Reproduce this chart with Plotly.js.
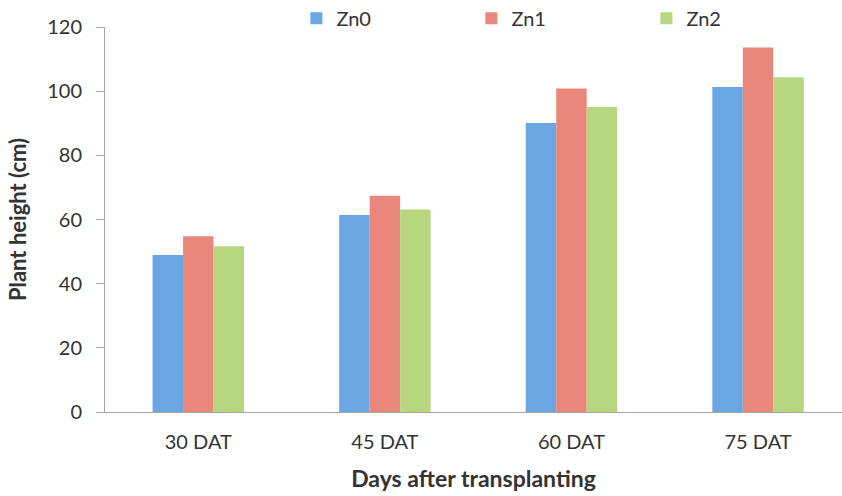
<!DOCTYPE html>
<html>
<head>
<meta charset="utf-8">
<script src="https://cdn.plot.ly/plotly-3.0.1.min.js"></script>
<style>html,body{margin:0;padding:0;background:#fff;overflow:hidden}#chart{width:842px;height:496px}</style>
</head>
<body>
<div id="chart"></div>
<script>
const categories = ["30 DAT", "45 DAT", "60 DAT", "75 DAT"];
const seriesNames = ["Zn0", "Zn1", "Zn2"];
const zn0 = [48.9, 61.4, 90.1, 101.3];
const zn1 = [54.8, 67.4, 100.8, 113.6];
const zn2 = [51.7, 63.1, 95.1, 104.3];
const yTicks = [0, 20, 40, 60, 80, 100, 120];
const colors = ["#6aa6e2", "#ea877c", "#b6d77f"];

const values = [zn0, zn1, zn2];
const traces = values.map((v, i) => ({
  type: "bar",
  name: seriesNames[i],
  x: categories,
  y: v,
  marker: {color: colors[i], line: {width: 0}},
  hoverinfo: "skip"
}));

const font = "Lato, 'Open Sans', 'DejaVu Sans', sans-serif";
const txt = "#333";
const layout = {
  width: 842,
  height: 496,
  margin: {l: 105, r: 0, t: 27, b: 84, autoexpand: false},
  paper_bgcolor: "#fff",
  plot_bgcolor: "#fff",
  barmode: "group",
  bargap: 0.51,
  bargroupgap: 0,
  font: {family: font, color: txt, size: 20},
  showlegend: true,
  legend: {
    orientation: "h",
    xref: "container", yref: "container",
    x: 0.352, xanchor: "left",
    y: 0.963, yanchor: "middle",
    entrywidth: 130, entrywidthmode: "pixels",
    font: {family: font, size: 20, color: txt},
    itemwidth: 30,
    bgcolor: "rgba(0,0,0,0)"
  },
  xaxis: {
    type: "category",
    range: [-0.5, 3.45],
    showline: true, linecolor: "#a6a6a6", linewidth: 1,
    ticks: "", showgrid: false, zeroline: false,
    tickfont: {family: font, size: 20, color: txt},
    ticklabelstandoff: 12,
    automargin: false,
    title: {text: "<b>Days after transplanting</b>", font: {family: font, size: 23, color: txt}, standoff: 18}
  },
  yaxis: {
    range: [0, 120],
    tickvals: yTicks,
    ticktext: yTicks.map(String),
    showline: true, linecolor: "#a6a6a6", linewidth: 1,
    ticks: "outside", ticklen: 8, tickcolor: "#a6a6a6",
    showgrid: false, zeroline: false,
    tickfont: {family: font, size: 20, color: txt},
    ticklabelstandoff: 10,
    automargin: false,
    title: {text: "<b>Plant height (cm)</b>", font: {family: font, size: 22, color: txt}, standoff: 14}
  }
};

Plotly.newPlot("chart", traces, layout, {staticPlot: true, displayModeBar: false});
</script>
</body>
</html>
